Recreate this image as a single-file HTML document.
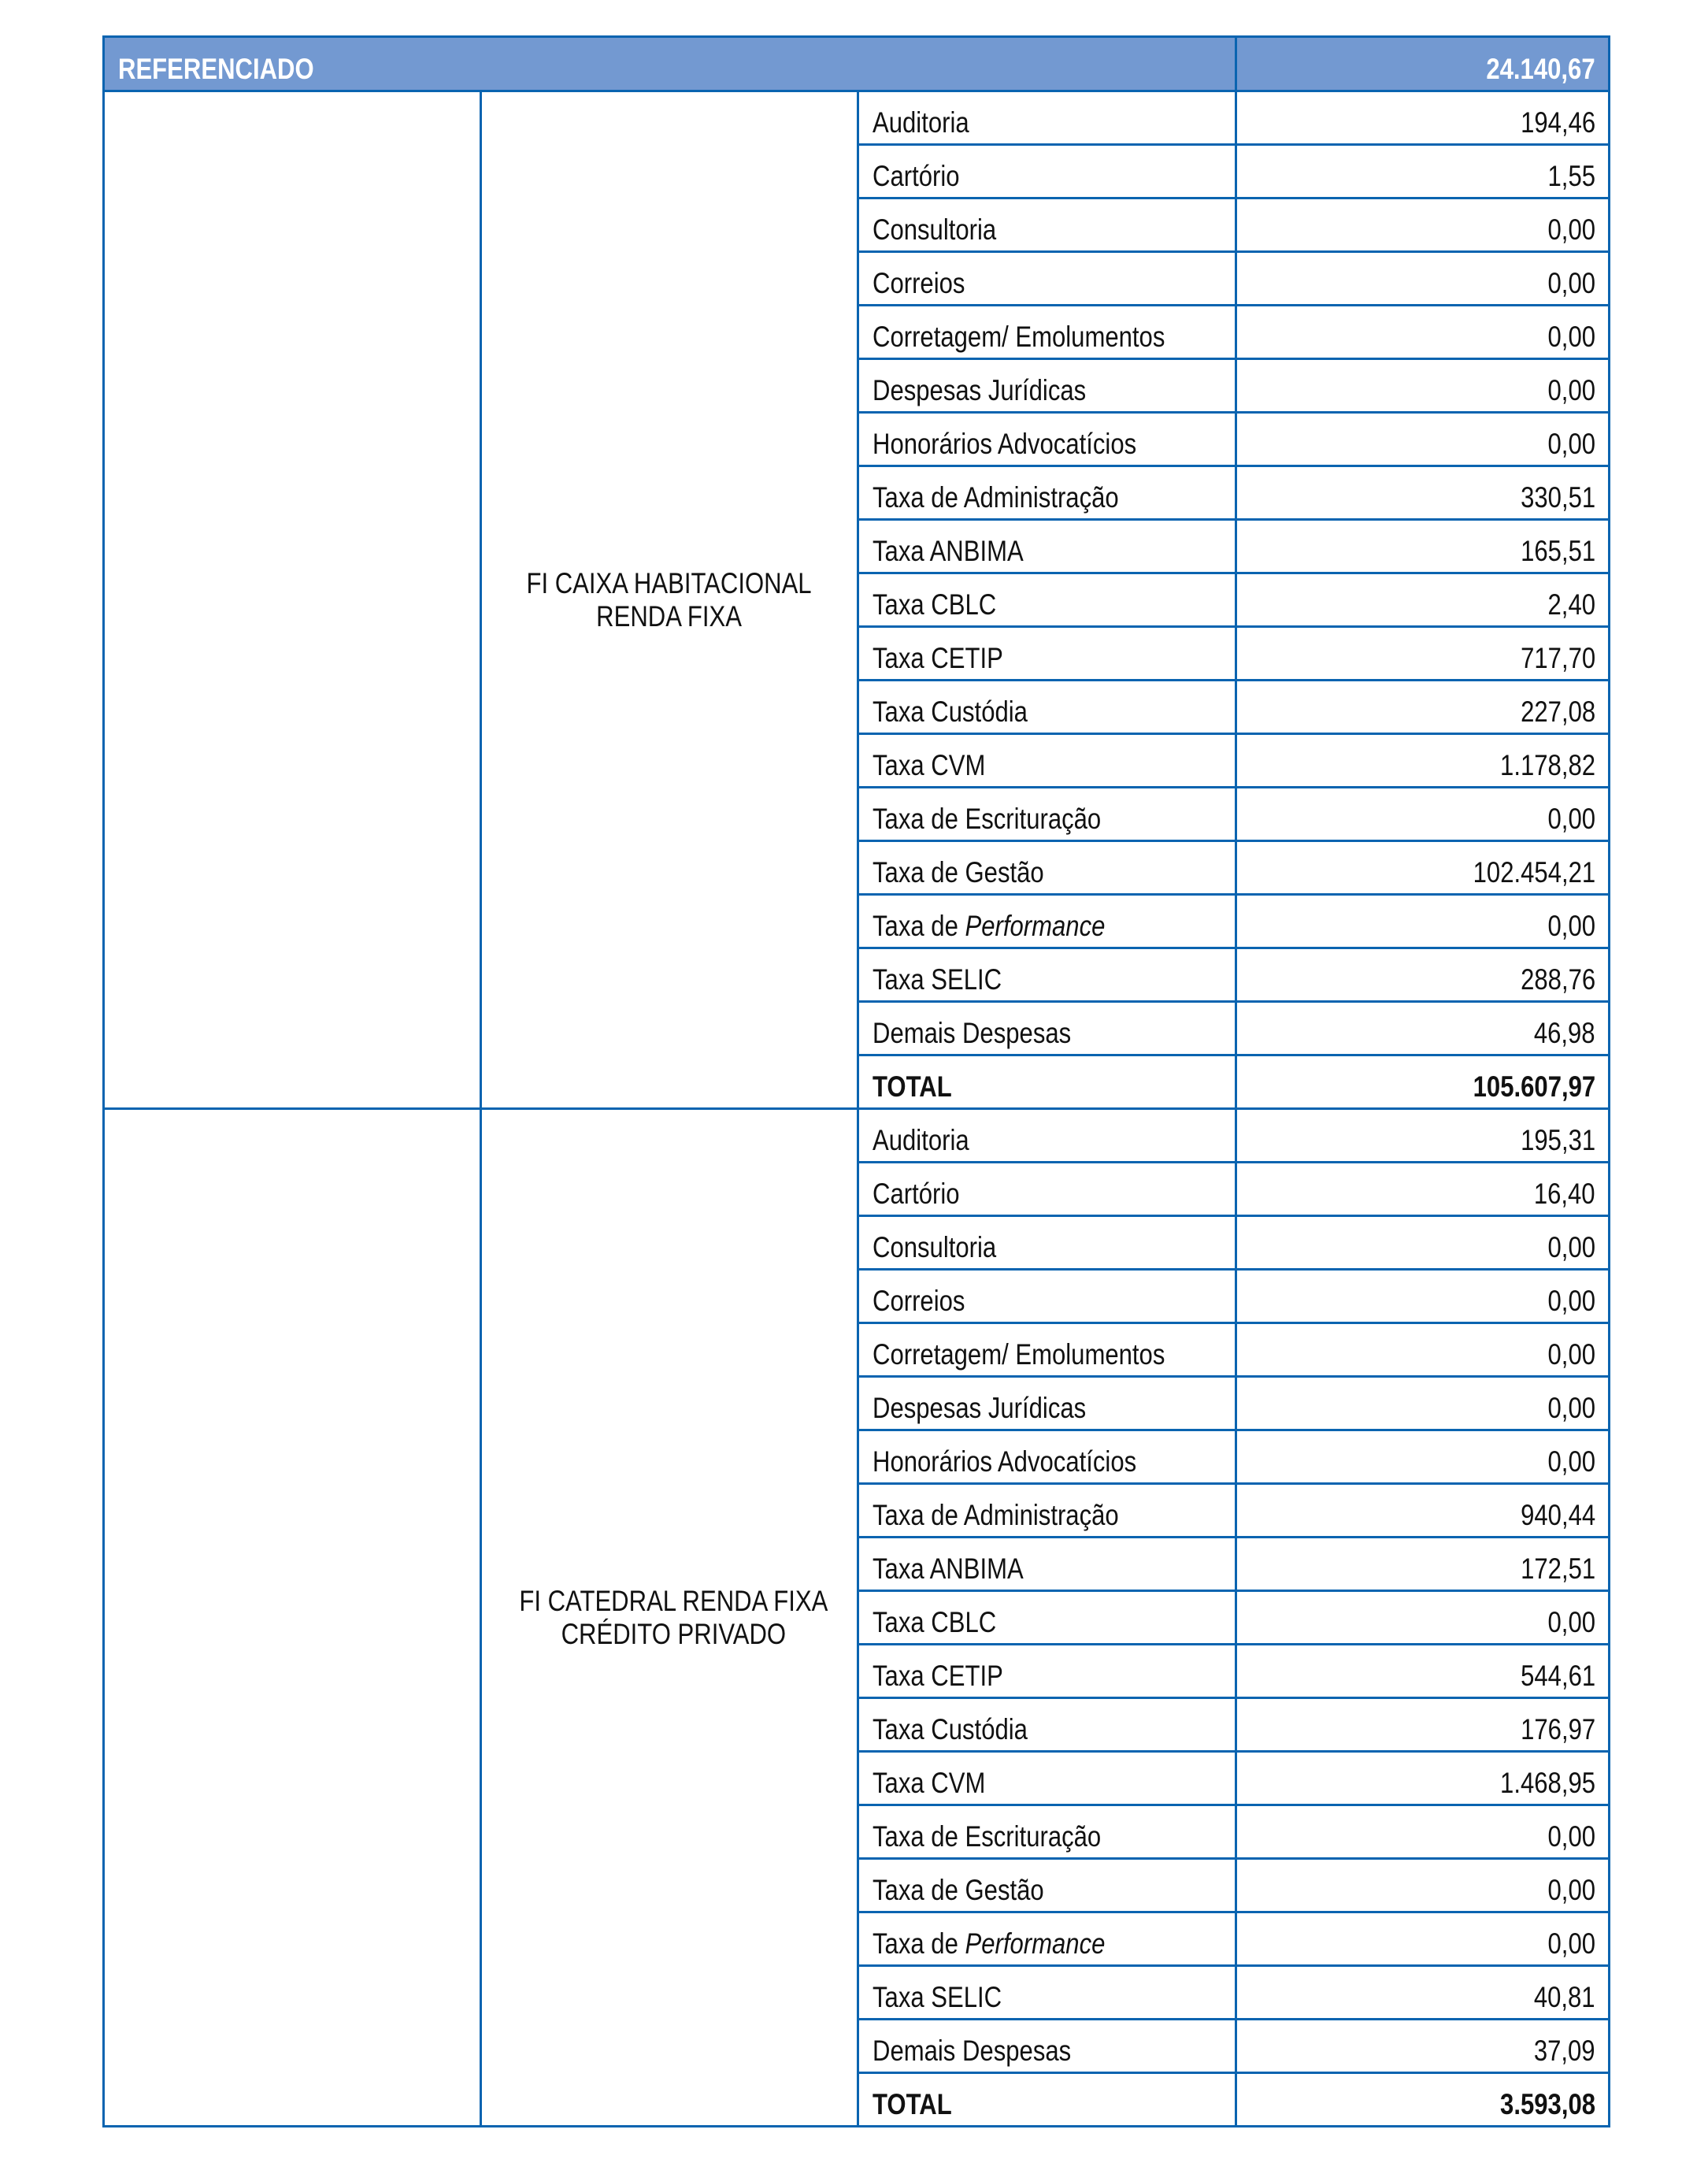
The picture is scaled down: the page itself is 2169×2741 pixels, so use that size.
<!DOCTYPE html><html><head><meta charset="utf-8"><style>
body{margin:0;width:2169px;height:2741px;background:#fff;position:relative;font-family:"Liberation Sans Narrow","Liberation Sans",sans-serif;}
table{position:absolute;left:130px;top:45px;border-collapse:collapse;table-layout:fixed;width:1912px;}
td{border:3px solid #0a64b0;height:59px;padding:0 16px 6px 17px;font-size:37px;vertical-align:bottom;color:#111;white-space:nowrap;overflow:visible;line-height:40px}
td span{display:inline-block;transform:scaleX(0.84);transform-origin:left bottom}
td.v{text-align:right;padding-right:16px}
td.v span{transform-origin:right bottom}
td.m{text-align:center;vertical-align:middle;line-height:42px;padding:0 10px}
td.m span{transform-origin:center}
tr.h td{background:#7399d1;color:#fff;height:60px;font-weight:bold}
b{font-weight:bold}
</style></head><body>
<table>
<col style="width:479px"><col style="width:479px"><col style="width:480px"><col style="width:474px">
<tr class="h"><td colspan="3"><span>REFERENCIADO</span></td><td class="v"><span>24.140,67</span></td></tr>
<tr><td rowspan="19"></td><td rowspan="19" class="m"><span>FI CAIXA HABITACIONAL<br>RENDA FIXA</span></td><td><span>Auditoria</span></td><td class="v"><span>194,46</span></td></tr>
<tr><td><span>Cartório</span></td><td class="v"><span>1,55</span></td></tr>
<tr><td><span>Consultoria</span></td><td class="v"><span>0,00</span></td></tr>
<tr><td><span>Correios</span></td><td class="v"><span>0,00</span></td></tr>
<tr><td><span>Corretagem/ Emolumentos</span></td><td class="v"><span>0,00</span></td></tr>
<tr><td><span>Despesas Jurídicas</span></td><td class="v"><span>0,00</span></td></tr>
<tr><td><span>Honorários Advocatícios</span></td><td class="v"><span>0,00</span></td></tr>
<tr><td><span>Taxa de Administração</span></td><td class="v"><span>330,51</span></td></tr>
<tr><td><span>Taxa ANBIMA</span></td><td class="v"><span>165,51</span></td></tr>
<tr><td><span>Taxa CBLC</span></td><td class="v"><span>2,40</span></td></tr>
<tr><td><span>Taxa CETIP</span></td><td class="v"><span>717,70</span></td></tr>
<tr><td><span>Taxa Custódia</span></td><td class="v"><span>227,08</span></td></tr>
<tr><td><span>Taxa CVM</span></td><td class="v"><span>1.178,82</span></td></tr>
<tr><td><span>Taxa de Escrituração</span></td><td class="v"><span>0,00</span></td></tr>
<tr><td><span>Taxa de Gestão</span></td><td class="v"><span>102.454,21</span></td></tr>
<tr><td><span>Taxa de <i>Performance</i></span></td><td class="v"><span>0,00</span></td></tr>
<tr><td><span>Taxa SELIC</span></td><td class="v"><span>288,76</span></td></tr>
<tr><td><span>Demais Despesas</span></td><td class="v"><span>46,98</span></td></tr>
<tr><td><span><b>TOTAL</b></span></td><td class="v"><span><b>105.607,97</b></span></td></tr>
<tr><td rowspan="19"></td><td rowspan="19" class="m"><span>FI CATEDRAL RENDA FIXA<br>CRÉDITO PRIVADO</span></td><td><span>Auditoria</span></td><td class="v"><span>195,31</span></td></tr>
<tr><td><span>Cartório</span></td><td class="v"><span>16,40</span></td></tr>
<tr><td><span>Consultoria</span></td><td class="v"><span>0,00</span></td></tr>
<tr><td><span>Correios</span></td><td class="v"><span>0,00</span></td></tr>
<tr><td><span>Corretagem/ Emolumentos</span></td><td class="v"><span>0,00</span></td></tr>
<tr><td><span>Despesas Jurídicas</span></td><td class="v"><span>0,00</span></td></tr>
<tr><td><span>Honorários Advocatícios</span></td><td class="v"><span>0,00</span></td></tr>
<tr><td><span>Taxa de Administração</span></td><td class="v"><span>940,44</span></td></tr>
<tr><td><span>Taxa ANBIMA</span></td><td class="v"><span>172,51</span></td></tr>
<tr><td><span>Taxa CBLC</span></td><td class="v"><span>0,00</span></td></tr>
<tr><td><span>Taxa CETIP</span></td><td class="v"><span>544,61</span></td></tr>
<tr><td><span>Taxa Custódia</span></td><td class="v"><span>176,97</span></td></tr>
<tr><td><span>Taxa CVM</span></td><td class="v"><span>1.468,95</span></td></tr>
<tr><td><span>Taxa de Escrituração</span></td><td class="v"><span>0,00</span></td></tr>
<tr><td><span>Taxa de Gestão</span></td><td class="v"><span>0,00</span></td></tr>
<tr><td><span>Taxa de <i>Performance</i></span></td><td class="v"><span>0,00</span></td></tr>
<tr><td><span>Taxa SELIC</span></td><td class="v"><span>40,81</span></td></tr>
<tr><td><span>Demais Despesas</span></td><td class="v"><span>37,09</span></td></tr>
<tr><td><span><b>TOTAL</b></span></td><td class="v"><span><b>3.593,08</b></span></td></tr>
</table>
</body></html>
